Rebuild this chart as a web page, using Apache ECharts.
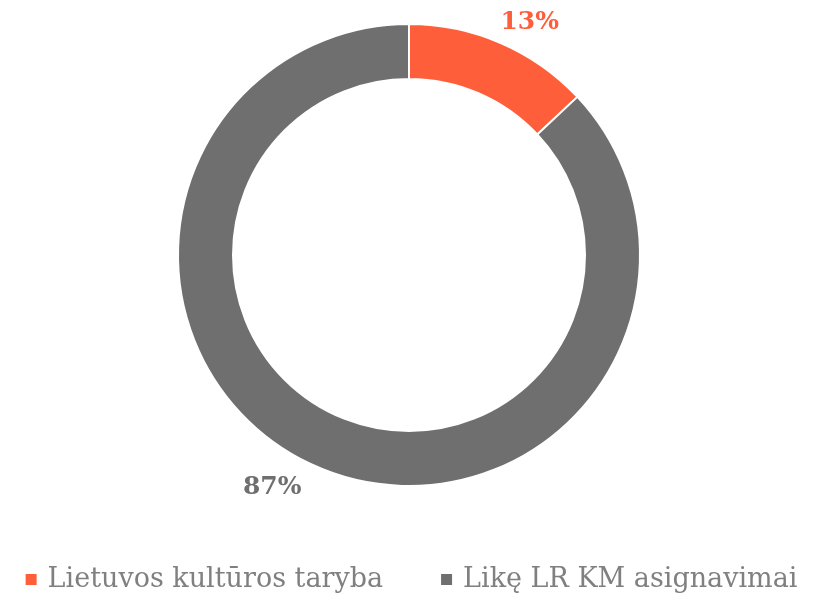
<!DOCTYPE html>
<html>
<head>
<meta charset="utf-8">
<script src="https://cdn.jsdelivr.net/npm/echarts@6/dist/echarts.min.js"></script>
<style>
  html, body { margin: 0; padding: 0; background: #fff; }
  #chart { width: 821px; height: 597px; }
</style>
</head>
<body>
<div id="chart"></div>
<script>
const categories = ['Lietuvos kultūros taryba', 'Likę LR KM asignavimai']
const shares = [13, 87]
const colors = ['#FF5E3A', '#6F6F6F']
// label nudges so they sit like the original's outside-end labels
const labelGaps = [-9, 7]

const chart = echarts.init(document.getElementById('chart'))
chart.setOption({
  animation: false,
  legend: {
    bottom: -1,
    left: 'center',
    icon: 'rect',
    itemWidth: 13,
    itemHeight: 13,
    itemGap: 56,
    textStyle: {
      fontFamily: 'DejaVu Serif',
      fontSize: 27,
      color: '#808080',
      padding: [0, 0, 0, 5]
    }
  },
  series: [
    {
      type: 'pie',
      center: [409, 255],
      radius: [176, 231],
      startAngle: 90,
      clockwise: true,
      avoidLabelOverlap: false,
      itemStyle: { borderColor: '#fff', borderWidth: 2 },
      label: {
        position: 'outside',
        formatter: '{d}%',
        fontFamily: 'DejaVu Serif',
        fontWeight: 'bold',
        fontSize: 25
      },
      labelLine: { show: false, length: 22, length2: 0 },
      data: categories.map((name, i) => ({
        name,
        value: shares[i],
        itemStyle: { color: colors[i] },
        label: { color: colors[i], distanceToLabelLine: labelGaps[i] }
      }))
    }
  ]
})
</script>
</body>
</html>
